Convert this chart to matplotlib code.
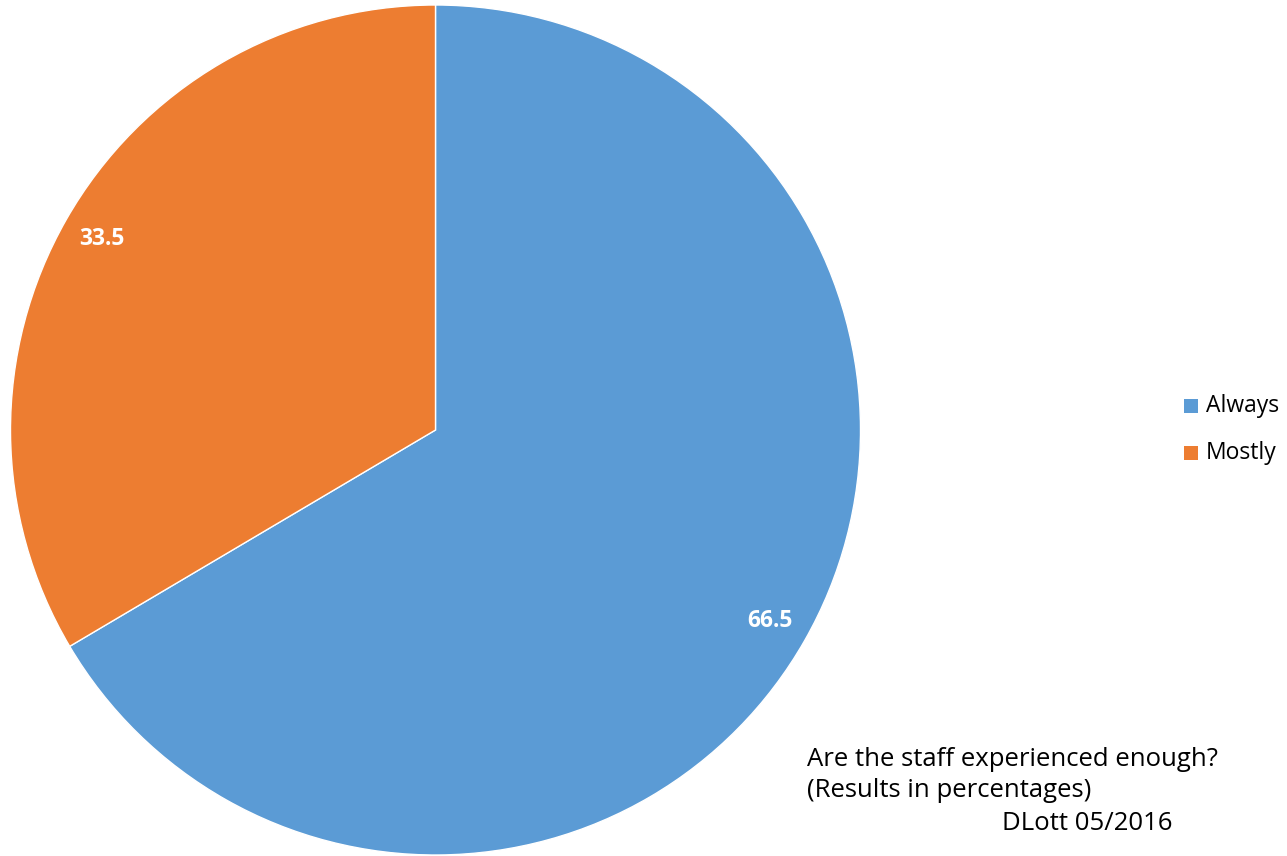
import matplotlib
matplotlib.use("Agg")
import matplotlib.pyplot as plt
from matplotlib.patches import Rectangle

categories = ["Always", "Mostly"]
values = [66.5, 33.5]
colors = ["#5B9BD5", "#ED7D31"]
title_lines = ["Are the staff experienced enough?", "(Results in percentages)"]
credit = "DLott 05/2016"

W, H = 1287, 856
fig = plt.figure(figsize=(W / 100, H / 100), dpi=100)
ax = fig.add_axes([0, 0, 1, 1])

font = "Open Sans"
cx, cy, r = 435.5, 430, 425


def Y(ypx):
    return H - ypx


wedges, texts, autotexts = ax.pie(
    values, colors=colors, startangle=90, counterclock=False,
    center=(cx, Y(cy)), radius=r, frame=True,
    autopct="%.1f", pctdistance=0.905,
    wedgeprops=dict(edgecolor="white", linewidth=1.0),
    textprops=dict(color="white", fontsize=16.5, fontweight="bold", family=font),
)
ax.set_xlim(0, W)
ax.set_ylim(0, H)
ax.set_aspect("equal")
ax.axis("off")

# legend
leg_y = [406, 453]
for cat, col, y in zip(categories, colors, leg_y):
    ax.add_patch(Rectangle((1184, Y(y) - 7), 14, 14, facecolor=col, edgecolor="none"))
    ax.text(1206, Y(y), cat, fontsize=16.5, family=font, va="center", ha="left", color="#000000")

ax.text(807, Y(766), title_lines[0], fontsize=18.5, family=font, va="baseline", ha="left")
ax.text(807, Y(797), title_lines[1], fontsize=18.5, family=font, va="baseline", ha="left")
ax.text(1172, Y(830), credit, fontsize=18.5, family=font, va="baseline", ha="right")

fig.savefig("out.png", dpi=100)
